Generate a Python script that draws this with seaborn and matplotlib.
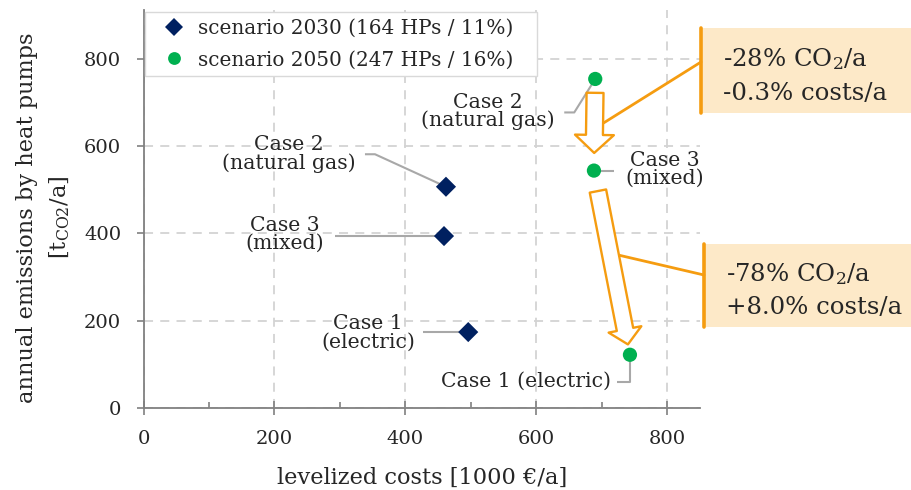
import matplotlib
matplotlib.use("Agg")
import numpy as np
import pandas as pd
import matplotlib.pyplot as plt
import seaborn as sns
from matplotlib import transforms
from matplotlib.patches import FancyArrowPatch, Rectangle, ConnectionPatch, ArrowStyle
from matplotlib.lines import Line2D
from matplotlib.ticker import MultipleLocator

# ---- data -------------------------------------------------------------
scenarios = ["scenario 2030 (164 HPs / 11%)", "scenario 2050 (247 HPs / 16%)"]
cases = ["Case 1", "Case 2", "Case 3"]
case_kinds = ["electric", "natural gas", "mixed"]
costs_2030 = [496, 462, 459]        # levelized costs [1000 EUR/a]
emissions_2030 = [174, 507, 394]    # [t CO2 / a]
costs_2050 = [743, 690, 688]
emissions_2050 = [122, 754, 544]
change_labels = [["-28% CO$_2$/a", "-0.3% costs/a"],
                 ["-78% CO$_2$/a", "+8.0% costs/a"]]
x_ticks = [0, 200, 400, 600, 800]
y_ticks = [0, 200, 400, 600, 800]

df = pd.DataFrame({
    "cost": costs_2030 + costs_2050,
    "emission": emissions_2030 + emissions_2050,
    "scenario": [scenarios[0]] * 3 + [scenarios[1]] * 3,
    "case": cases * 2,
})

# ---- style ------------------------------------------------------------
sns.set_theme(style="white")
plt.rcParams["font.family"] = ["DejaVu Serif"]
plt.rcParams["mathtext.fontset"] = "dejavuserif"

NAVY = "#002060"
GREEN = "#00B050"
ORANGE = "#F59C10"
PEACH = "#FDE9C8"
LGRAY = "#A8A8A8"
AXGRAY = "#808080"
TICK_FS = 14
LABEL_FS = 16.2
NOTE_FS = 14.7
LEG_FS = 14.4
BOX_FS = 17.6

W, H = 911, 490
fig = plt.figure(figsize=(W / 100, H / 100), dpi=100)
ax = fig.add_axes([143.5 / W, 1 - 408 / H, (700 - 143.5) / W, (408 - 10) / H])

sns.scatterplot(data=df, x="cost", y="emission", hue="scenario", style="scenario",
                palette={scenarios[0]: NAVY, scenarios[1]: GREEN},
                markers={scenarios[0]: "D", scenarios[1]: "o"},
                s=105, linewidth=0, ax=ax, zorder=5)

ax.set_xlim(0, 850)
ax.set_ylim(0, 912)
ax.set_xticks(x_ticks)
ax.set_yticks(y_ticks)
ax.xaxis.set_minor_locator(MultipleLocator(100))
ax.tick_params(axis="x", which="major", direction="inout", length=10, width=1.2,
               color=AXGRAY, labelsize=TICK_FS, pad=11, bottom=True)
ax.tick_params(axis="x", which="minor", direction="in", length=4.5, width=1.2,
               color=AXGRAY, bottom=True)
ax.tick_params(axis="y", which="major", direction="out", length=5, width=1.2,
               color=AXGRAY, labelsize=TICK_FS, pad=11, left=True)
for side in ("top", "right"):
    ax.spines[side].set_visible(False)
for side in ("left", "bottom"):
    ax.spines[side].set_color(AXGRAY)
    ax.spines[side].set_linewidth(1.3)

ax.set_axisbelow(True)
ax.grid(True, which="major", color="#D3D3D3", lw=1.3, ls=(0, (5, 4)))

ax.set_xlabel("levelized costs [1000 €/a]", fontsize=LABEL_FS)
ax.xaxis.set_label_coords(0.5, -0.147)
ax.xaxis.label.set_va("top")
ax.set_ylabel("annual emissions by heat pumps\n[t$_{\\mathrm{CO2}}$/a]", fontsize=LABEL_FS,
              linespacing=1.55)
ax.yaxis.set_label_coords(-0.128, 0.478)

handles, labels = ax.get_legend_handles_labels()
leg = ax.legend(handles, labels, loc="upper left",
                bbox_to_anchor=(0.0027, 0.0, (537 - 145) / 556.5, 0.995),
                mode="expand", borderaxespad=0, frameon=True, fancybox=False,
                framealpha=1, edgecolor="#D9D9D9", fontsize=LEG_FS,
                handlelength=2.2, handletextpad=0.1, borderpad=0.35,
                labelspacing=0.62, markerscale=0.9)
leg.get_frame().set_linewidth(1.0)
leg.set_zorder(6)


def anchored(x, y):
    """Pixel-offset transform anchored at a data point."""
    return transforms.Affine2D() + transforms.ScaledTranslation(x, y, ax.transData)


# case labels: (text offset in px, connector vertices in px), y measured downward
label_layout_2030 = {
    "Case 1": ((-100, 1), [(-45, 0), (0, 0)]),
    "Case 2": ((-157, -32.5), [(-81, -32.5), (-71, -32.5), (0, 0)]),
    "Case 3": ((-159, -1.5), [(-109, 0), (0, 0)]),
}
label_layout_2050 = {
    "Case 1": ((-104, 26.5), [(-12.5, 27.5), (0, 27.5), (0, 0)]),
    "Case 2": ((-107, 32.5), [(-31, 33.5), (-21, 33.5), (0, 0)]),
    "Case 3": ((71, -1), [(20, 0), (0, 0)]),
}

for costs, ems, layout in ((costs_2030, emissions_2030, label_layout_2030),
                           (costs_2050, emissions_2050, label_layout_2050)):
    for case, kind, cx, cy in zip(cases, case_kinds, costs, ems):
        (tx, ty), verts = layout[case]
        tr = anchored(cx, cy)
        if layout is label_layout_2050 and case == "Case 1":
            txt = f"{case} ({kind})"
        else:
            txt = f"{case}\n({kind})"
        ax.text(tx, -ty, txt, transform=tr, ha="center", va="center",
                fontsize=NOTE_FS, linespacing=0.95, zorder=4)
        vx = [v[0] for v in verts]
        vy = [-v[1] for v in verts]
        ax.add_line(Line2D(vx, vy, transform=tr, color=LGRAY, lw=1.5, zorder=3,
                           solid_capstyle="butt"))

# hollow arrows between the 2050 cases: Case 2 -> Case 3 -> Case 1
arrow_specs = [
    # (from index, to index, shrinkA, shrinkB, tail, head width, head length)
    (1, 2, 10, 12.7, 12.2, 28, 13),
    (2, 0, 15, 7.6, 12.0, 24, 11),
]
for i0, i1, sa, sb, tw, hw, hl in arrow_specs:
    arr = FancyArrowPatch((costs_2050[i0], emissions_2050[i0]),
                          (costs_2050[i1], emissions_2050[i1]),
                          arrowstyle=ArrowStyle.Simple(head_length=hl, head_width=hw, tail_width=tw),
                          mutation_scale=1, shrinkA=sa, shrinkB=sb,
                          facecolor="white", edgecolor=ORANGE, lw=1.7, zorder=6,
                          transform=ax.transData)
    ax.add_patch(arr)

# callout boxes with the relative changes
boxes = [
    # (left, top, bottom, text x, baselines, arrow index, t along arrow, box-link y)
    (701, 28, 113, 723, (66, 100), 0, 0.48, 62),
    (704, 244, 327, 726, (281, 314), 1, 0.46, 275),
]
for (left, top, bottom, tx, baselines, ai, t, link_y), lines in zip(boxes, change_labels):
    fig.add_artist(Rectangle((left / W, 1 - bottom / H), (W - left) / W, (bottom - top) / H,
                             transform=fig.transFigure, facecolor=PEACH, edgecolor="none",
                             zorder=1))
    fig.add_artist(Line2D([left / W, left / W], [1 - top / H, 1 - bottom / H],
                          transform=fig.transFigure, color=ORANGE, lw=2.6, zorder=2))
    for line, base in zip(lines, baselines):
        fig.text(tx / W, 1 - base / H, line, ha="left", va="baseline",
                 fontsize=BOX_FS, zorder=3)
    i0, i1 = arrow_specs[ai][0], arrow_specs[ai][1]
    px = costs_2050[i0] + t * (costs_2050[i1] - costs_2050[i0])
    py = emissions_2050[i0] + t * (emissions_2050[i1] - emissions_2050[i0])
    link = ConnectionPatch(xyA=(9, 0), coordsA=anchored(px, py),
                           xyB=(left, H - link_y), coordsB="figure pixels",
                           color=ORANGE, lw=2.0, zorder=7)
    fig.add_artist(link)

fig.savefig("out.png", dpi=100)
